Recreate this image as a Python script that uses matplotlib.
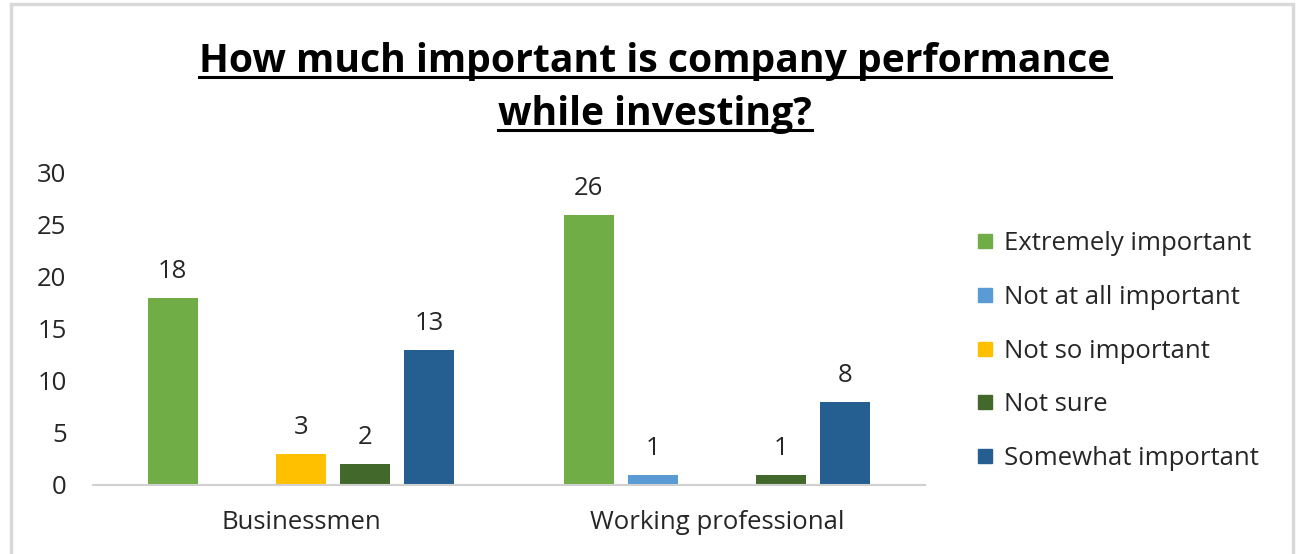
import matplotlib
matplotlib.use("Agg")
import matplotlib.pyplot as plt
import numpy as np
from matplotlib.lines import Line2D

plt.rcParams['font.family'] = ['Open Sans', 'DejaVu Sans']

categories = ["Businessmen", "Working professional"]
series = ["Extremely important", "Not at all important", "Not so important",
          "Not sure", "Somewhat important"]
extremely = [18, 26]
not_at_all = [np.nan, 1]
not_so = [3, np.nan]
not_sure = [2, 1]
somewhat = [13, 8]
values = [extremely, not_at_all, not_so, not_sure, somewhat]
colors = ["#70AD47", "#5B9BD5", "#FFC000", "#43682B", "#255E91"]
yticks = [0, 5, 10, 15, 20, 25, 30]
title_lines = ["How much important is company performance", "while investing?"]

W, H = 1301, 554
fig = plt.figure(figsize=(W / 100, H / 100), dpi=100)
ax = fig.add_axes([93 / W, 69 / H, 832 / W, 312 / H])

txt = "#262626"
fs = 18.5
x = np.arange(len(categories))
width = 0.12
step = 0.154
for i, (vals, col) in enumerate(zip(values, colors)):
    vals = np.array(vals, dtype=float)
    pos = x + (i - 2) * step
    ax.bar(pos, np.nan_to_num(vals), width=width, color=col, zorder=2)
    for p, v in zip(pos, vals):
        if not np.isnan(v):
            ax.annotate(f"{v:g}", (p, v), xytext=(0, 10), textcoords="offset points",
                        ha="center", va="bottom", fontsize=fs, color=txt)

ax.set_xlim(-0.5, 1.5)
ax.set_ylim(0, 30)
ax.set_yticks(yticks)
ax.set_xticks(x)
ax.set_xticklabels(categories)
ax.tick_params(axis="y", length=0, pad=19, labelsize=fs, labelcolor=txt)
ax.tick_params(axis="x", length=0, pad=18, labelsize=fs, labelcolor=txt)
for s in ["left", "right", "top"]:
    ax.spines[s].set_visible(False)
ax.spines["bottom"].set_color("#D0D0D0")
ax.spines["bottom"].set_linewidth(1.5)

# legend
handles = [Line2D([], [], marker="s", linestyle="none", markersize=10,
                  markerfacecolor=c, markeredgecolor=c) for c in colors]
fig.legend(handles, series, loc="center left", bbox_to_anchor=(949 / W, 1 - 351 / H),
           frameon=False, fontsize=fs, labelspacing=1.12, handletextpad=0.25,
           handlelength=1.0, labelcolor=txt)

# title with underline
fig.canvas.draw()
renderer = fig.canvas.get_renderer()
for line, yb in zip(title_lines, [72, 125]):
    t = fig.text(655 / W, 1 - yb / H, line, ha="center", va="baseline",
                 fontsize=28.2, fontweight="bold", color="#000000")
    bb = t.get_window_extent(renderer)
    uy = 1 - (yb + 5) / H
    fig.add_artist(Line2D([bb.x0 / W, bb.x1 / W], [uy, uy], color="black", lw=2.2,
                          transform=fig.transFigure))

# outer frame
fig.add_artist(plt.Rectangle((11 / W, -10 / H), 1282 / W, 560 / H, fill=False,
                             edgecolor="#D9D9D9", lw=2.5, transform=fig.transFigure))

fig.savefig("out.png", dpi=100)
